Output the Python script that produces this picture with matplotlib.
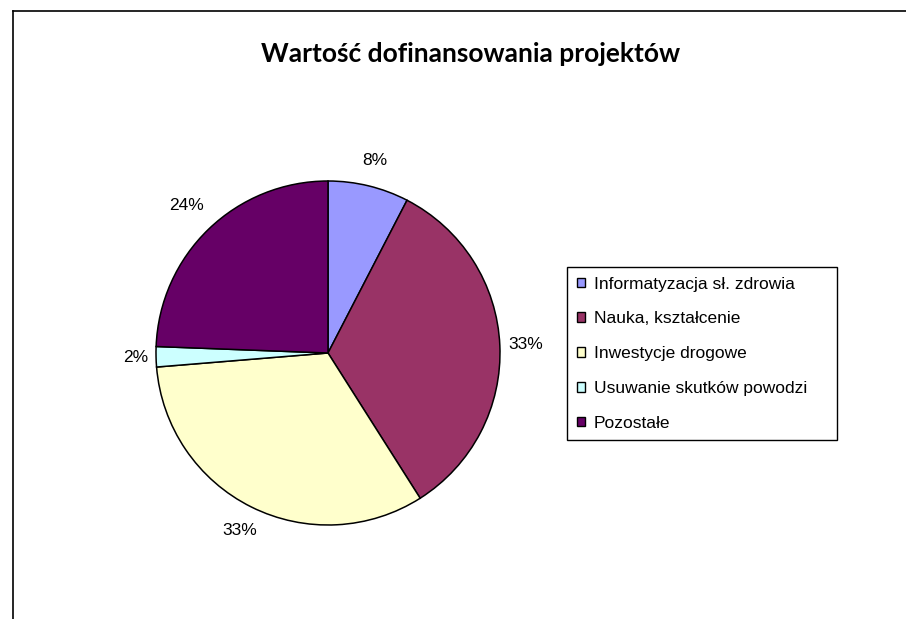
import matplotlib
matplotlib.use("Agg")
import matplotlib.pyplot as plt
import numpy as np
from matplotlib.lines import Line2D

# dane
kategorie = ["Informatyzacja sł. zdrowia", "Nauka, kształcenie", "Inwestycje drogowe",
             "Usuwanie skutków powodzi", "Pozostałe"]
udzialy = [7.6, 33.4, 32.7, 1.9, 24.4]
kolory = ["#9999FF", "#993366", "#FFFFCC", "#CCFFFF", "#660066"]
tytul = "Wartość dofinansowania projektów"

# odleglosc etykiet od srodka (w promieniach), jak w Excelu
odl_etykiet = [1.15, 1.15, 1.155, 1.12, 1.19]

W, H = 906, 619
fig = plt.figure(figsize=(W / 100, H / 100), dpi=100)

# pie: srodek (328, 353), promien 172 px
cx, cy, r = 328, 353, 172
ax = fig.add_axes([(cx - r) / W, (H - cy - r) / H, 2 * r / W, 2 * r / H])
klinki, _, procenty = ax.pie(udzialy, colors=kolory, startangle=90, counterclock=False,
                            autopct="%.0f%%", pctdistance=1.15, radius=1,
                            wedgeprops=dict(edgecolor="black", linewidth=1.1))
for k, t, d in zip(klinki, procenty, odl_etykiet):
    kat = np.deg2rad((k.theta1 + k.theta2) / 2)
    t.set_position((d * np.cos(kat), d * np.sin(kat)))
    t.set_fontfamily("Liberation Sans")
    t.set_fontsize(12.5)
ax.set_xlim(-1, 1)
ax.set_ylim(-1, 1)
ax.set_aspect("equal")
ax.axis("off")

fig.text(471 / W, 1 - 54 / H, tytul, ha="center", va="center",
         fontsize=19, fontweight="bold", family="Lato")

leg = fig.legend(klinki, kategorie, loc="upper left",
                 bbox_to_anchor=(567 / W, (H - 435) / H, 270 / W, 168 / H),
                 mode="expand", borderaxespad=0, fancybox=False,
                 edgecolor="black", framealpha=1,
                 prop={"family": "Liberation Sans", "size": 12.5},
                 handlelength=0.48, handleheight=0.48, handletextpad=0.5,
                 labelspacing=1.14, borderpad=0.55)
leg.get_frame().set_linewidth(1.0)
for h in leg.legend_handles:
    h.set_linewidth(1.0)
    h.set_edgecolor("black")

# ramka (tylko gora i lewa strona widoczne)
fig.add_artist(Line2D([13 / W, 1], [1 - 11 / H, 1 - 11 / H], color="black", lw=1.2,
                      transform=fig.transFigure))
fig.add_artist(Line2D([13 / W, 13 / W], [0, 1 - 11 / H], color="black", lw=1.2,
                      transform=fig.transFigure))

fig.savefig("out.png", dpi=100)
